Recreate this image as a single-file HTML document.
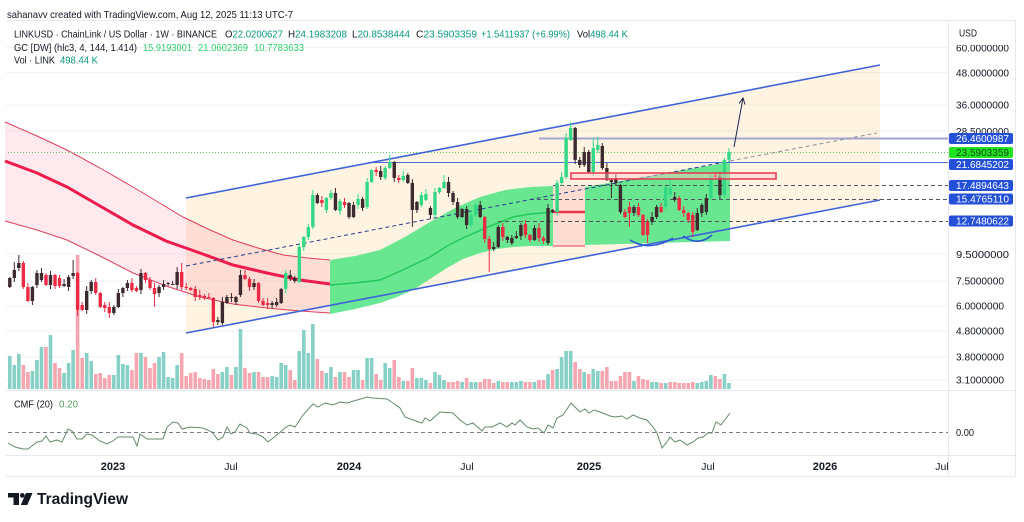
<!DOCTYPE html>
<html><head><meta charset="utf-8">
<style>
html,body{margin:0;padding:0;background:#fff;width:1024px;height:522px;overflow:hidden}
svg{display:block}
text{font-family:"Liberation Sans",Arial,sans-serif}
</style></head>
<body>
<svg id="s" width="1024" height="522" viewBox="0 0 1024 522" xmlns="http://www.w3.org/2000/svg">
<defs><clipPath id="axclip"><rect x="949" y="45" width="70" height="430"/></clipPath></defs>
<rect width="1024" height="522" fill="#fff"/>
<!-- grid -->
<g stroke="#f0f2f5" stroke-width="1">
<line x1="6" x2="948" y1="47.5" y2="47.5"/><line x1="6" x2="948" y1="72.5" y2="72.5"/>
<line x1="6" x2="948" y1="105" y2="105"/><line x1="6" x2="948" y1="131" y2="131"/>
<line x1="6" x2="948" y1="254" y2="254"/><line x1="6" x2="948" y1="281" y2="281"/>
<line x1="6" x2="948" y1="306" y2="306"/><line x1="6" x2="948" y1="331" y2="331"/>
<line x1="6" x2="948" y1="357" y2="357"/><line x1="6" x2="948" y1="380" y2="380"/>
</g>
<!-- frame -->
<g stroke="#e6e8ee" stroke-width="1">
<line x1="6" x2="1015" y1="20.5" y2="20.5"/>
<line x1="6" x2="1015" y1="390.5" y2="390.5"/>
<line x1="6" x2="1015" y1="455.5" y2="455.5"/>
<line x1="6" x2="1015" y1="476.5" y2="476.5"/>
<line x1="948.5" x2="948.5" y1="20" y2="476"/>
<line x1="1015.5" x2="1015.5" y1="20" y2="476"/>
</g>
<!-- channel fill -->
<polygon points="186,198 880,65 880,200 186,333" fill="#ffb74d" fill-opacity="0.17"/>
<!-- pink GC band -->
<polygon points="5,122 37,136 67,150 100,168 133,187 158,202 183,217 208,229 233,240 258,248 283,255 308,258 330,260 330,313 300,311 267,308 233,304 200,297 166,286 133,273 100,256 67,240 37,230 5,221" fill="#f7386b" fill-opacity="0.11"/>
<!-- green GC band -->
<polygon points="330,260 355,256 380,250 405,237 430,222 455,208 480,197 505,190 530,187 553,186 553,246 530,246 513,247 497,249 480,253 463,259 447,268 430,279 413,290 397,297 380,303 355,309 330,314" fill="#2fe070" fill-opacity="0.72"/>
<rect x="553" y="186" width="32" height="60" fill="#f7386b" fill-opacity="0.12"/>
<polygon points="585,187 730,162 730,241 585,245" fill="#2fe070" fill-opacity="0.72"/>
<!-- GC lines -->
<polyline points="5,122 37,136 67,150 100,168 133,187 158,202 183,217 208,229 233,240 258,248 283,255 308,258 330,260" fill="none" stroke="#e0405c" stroke-width="1"/>
<polyline points="5,221 37,230 67,240 100,256 133,273 166,286 200,297 233,304 267,308 300,311 330,313" fill="none" stroke="#e0405c" stroke-width="1"/>
<polyline points="5,161 37,173 67,187 100,206 133,225 166,241 200,253 233,265 267,273 300,280 330,284" fill="none" stroke="#ee1c4c" stroke-width="3"/>
<polyline points="330,285 355,283 380,280 405,269 430,257 447,246 463,238 488,227 513,217 530,214 553,212" fill="none" stroke="#22c95a" stroke-width="1.5"/>
<line x1="553" x2="585" y1="212" y2="212" stroke="#e8344a" stroke-width="2.5"/>
<line x1="553" x2="585" y1="246" y2="246" stroke="#e0405c" stroke-width="1"/>
<!-- horizontal levels -->
<line x1="539" x2="948" y1="138.5" y2="138.5" stroke="#a3a6d2" stroke-width="2"/>
<line x1="8" x2="948" y1="152.5" y2="152.5" stroke="#5cc95c" stroke-width="1" stroke-dasharray="1,2"/>
<line x1="372" x2="948" y1="162.5" y2="162.5" stroke="#4a6fd8" stroke-width="1"/>
<g stroke="#50555f" stroke-width="1" stroke-dasharray="4,3">
<line x1="553" x2="948" y1="185.5" y2="185.5"/>
<line x1="530" x2="948" y1="199.5" y2="199.5"/>
<line x1="498" x2="948" y1="221.5" y2="221.5"/>
</g>
<!-- volume & candles -->
<g id="vol"></g>
<!-- CMF -->
<line x1="8" x2="948" y1="432.5" y2="432.5" stroke="#777c86" stroke-width="1" stroke-dasharray="4,3"/>
<polyline fill="none" stroke="#65896a" stroke-width="1" points="8,443 15,447 23,449 28,449 37,442 42,441 46,436 50,442 57,440 62,442 68,429 72,431 77,439 82,439 87,434 92,435 100,441 107,444 113,441 118,437 128,437 133,437 137,446 140,434 147,439 153,439 163,439 167,427 173,422 178,423 182,429 190,427 203,428 212,432 218,440 223,437 227,427 231,434 235,432 240,424 247,428 250,433 257,434 263,437 268,442 273,438 278,434 285,428 290,425 295,427 303,415 313,404 318,407 325,403 333,405 340,402 347,403 357,400 367,397 372,398 387,399 393,403 400,408 405,417 413,420 422,423 425,418 430,421 440,412 453,413 460,420 467,425 473,423 482,431 485,427 492,427 500,423 507,427 512,423 515,425 520,420 527,427 533,429 538,428 544,433 548,425 553,428 557,418 563,415 571,403 580,412 585,409 589,413 594,410 600,412 610,416 615,417 622,416 627,419 633,415 640,418 647,420 653,427 657,433 662,448 667,442 670,437 675,442 680,440 687,445 693,442 698,438 703,437 708,433 712,433 716,422 721,425 730,413"/>
<!-- channel lines -->
<line x1="186" y1="198" x2="880" y2="65" stroke="#3f63d8" stroke-width="1.6"/>
<line x1="186" y1="333" x2="880" y2="200" stroke="#3f63d8" stroke-width="1.6"/>
<line x1="186" y1="266" x2="730" y2="161" stroke="#2b3f8f" stroke-width="1" stroke-dasharray="4,3"/>
<line x1="730" y1="161" x2="877" y2="133" stroke="#8c8f99" stroke-width="1" stroke-dasharray="4,3"/>
<g id="cdl"></g>
<!-- zone -->
<rect x="571" y="173" width="205" height="6" fill="#ffc8cc" fill-opacity="0.45" stroke="#e8344a" stroke-width="1.5"/>
<!-- arrow -->
<g stroke="#1c2550" stroke-width="1" fill="none">
<line x1="734" y1="147" x2="743" y2="98"/>
<polyline points="739,103.5 743,98 745,104.5"/>
</g>
<!-- arcs -->
<path d="M630 240 Q650 252 673 238" fill="none" stroke="#2c55d4" stroke-width="1.6"/>
<path d="M683 236 Q698 247 712 235" fill="none" stroke="#2c55d4" stroke-width="1.6"/>

<!-- header -->
<text x="7" y="18" font-size="10.5" fill="#131722" textLength="286" lengthAdjust="spacingAndGlyphs">sahanavv created with TradingView.com, Aug 12, 2025 11:13 UTC-7</text>
<g font-size="10.5" fill="#131722">
<text x="14" y="37.5" textLength="203" lengthAdjust="spacingAndGlyphs">LINKUSD · ChainLink / US Dollar · 1W · BINANCE</text>
<text x="225" y="37.5" textLength="58" lengthAdjust="spacingAndGlyphs">O<tspan fill="#089981">22.0200627</tspan></text>
<text x="288" y="37.5" textLength="59" lengthAdjust="spacingAndGlyphs">H<tspan fill="#089981">24.1983208</tspan></text>
<text x="352" y="37.5" textLength="58" lengthAdjust="spacingAndGlyphs">L<tspan fill="#089981">20.8538444</tspan></text>
<text x="416" y="37.5" textLength="61" lengthAdjust="spacingAndGlyphs">C<tspan fill="#089981">23.5903359</tspan></text>
<text x="481" y="37.5" textLength="89" lengthAdjust="spacingAndGlyphs" fill="#089981">+1.5411937 (+6.99%)</text>
<text x="577" y="37.5" textLength="51" lengthAdjust="spacingAndGlyphs">Vol<tspan fill="#089981">498.44 K</tspan></text>
<text x="14" y="51" textLength="123" lengthAdjust="spacingAndGlyphs">GC [DW] (hlc3, 4, 144, 1.414)</text>
<text x="143" y="51" textLength="49" lengthAdjust="spacingAndGlyphs" fill="#2fd16b">15.9193001</text>
<text x="198" y="51" textLength="50" lengthAdjust="spacingAndGlyphs" fill="#2fd16b">21.0602369</text>
<text x="254" y="51" textLength="50" lengthAdjust="spacingAndGlyphs" fill="#2fd16b">10.7783633</text>
<text x="14" y="63.5" textLength="41" lengthAdjust="spacingAndGlyphs">Vol · LINK</text>
<text x="60" y="63.5" textLength="38" lengthAdjust="spacingAndGlyphs" fill="#089981">498.44 K</text>
<text x="14" y="407.5" textLength="39" lengthAdjust="spacingAndGlyphs">CMF (20)</text>
<text x="59" y="407.5" textLength="19" lengthAdjust="spacingAndGlyphs" fill="#4f9a58">0.20</text>
</g>
<!-- price axis -->
<g font-size="10" fill="#131722">
<text x="959" y="36.5" textLength="18" lengthAdjust="spacingAndGlyphs">USD</text>
<text x="956" y="51.3" textLength="53" lengthAdjust="spacingAndGlyphs" clip-path="url(#axclip)">60.0000000</text>
<text x="956" y="76.3" textLength="53" lengthAdjust="spacingAndGlyphs">48.0000000</text>
<text x="956" y="108.6" textLength="53" lengthAdjust="spacingAndGlyphs">36.0000000</text>
<text x="956" y="134.8" textLength="53" lengthAdjust="spacingAndGlyphs">28.5000000</text>
<text x="956" y="257.8" textLength="53" lengthAdjust="spacingAndGlyphs">9.5000000</text>
<text x="956" y="284.4" textLength="48" lengthAdjust="spacingAndGlyphs">7.5000000</text>
<text x="956" y="309.4" textLength="48" lengthAdjust="spacingAndGlyphs">6.0000000</text>
<text x="956" y="334.5" textLength="48" lengthAdjust="spacingAndGlyphs">4.8000000</text>
<text x="956" y="360.7" textLength="48" lengthAdjust="spacingAndGlyphs">3.8000000</text>
<text x="956" y="383.5" textLength="48" lengthAdjust="spacingAndGlyphs">3.1000000</text>
<text x="956" y="435.8" textLength="18" lengthAdjust="spacingAndGlyphs">0.00</text>
</g>
<g font-size="10">
<rect x="949" y="133" width="64" height="11" rx="2" fill="#2450d8"/>
<text x="956" y="142" fill="#fff" textLength="53" lengthAdjust="spacingAndGlyphs">26.4600987</text>
<rect x="949" y="147" width="64" height="11" rx="2" fill="#22e322"/>
<text x="956" y="156" fill="#0f4a12" textLength="53" lengthAdjust="spacingAndGlyphs">23.5903359</text>
<rect x="949" y="159" width="64" height="11" rx="2" fill="#2450d8"/>
<text x="956" y="168" fill="#fff" textLength="53" lengthAdjust="spacingAndGlyphs">21.6845202</text>
<rect x="949" y="180" width="64" height="11" rx="2" fill="#2450d8"/>
<text x="956" y="189" fill="#fff" textLength="53" lengthAdjust="spacingAndGlyphs">17.4894643</text>
<rect x="949" y="193.5" width="64" height="11" rx="2" fill="#2450d8"/>
<text x="956" y="202.5" fill="#fff" textLength="53" lengthAdjust="spacingAndGlyphs">15.4765110</text>
<rect x="949" y="215.5" width="64" height="11" rx="2" fill="#2450d8"/>
<text x="956" y="224.5" fill="#fff" textLength="53" lengthAdjust="spacingAndGlyphs">12.7480622</text>
</g>
<!-- time axis -->
<g fill="#131722" text-anchor="middle">
<text x="113" y="470" font-size="11" font-weight="bold">2023</text>
<text x="231" y="470" font-size="10.5">Jul</text>
<text x="349" y="470" font-size="11" font-weight="bold">2024</text>
<text x="467" y="470" font-size="10.5">Jul</text>
<text x="589" y="470" font-size="11" font-weight="bold">2025</text>
<text x="708" y="470" font-size="10.5">Jul</text>
<text x="825" y="470" font-size="11" font-weight="bold">2026</text>
<text x="942" y="470" font-size="10.5">Jul</text>
</g>
<!-- logo -->
<g fill="#131722">
<path d="M8 493h11v12h-5.5v-7.5H8z"/>
<circle cx="22.3" cy="495.4" r="2.4"/>
<path d="M26 493h6.5l-5.2 12h-6.5z"/>
<text x="37" y="504" font-size="16" font-weight="bold" textLength="91" lengthAdjust="spacingAndGlyphs">TradingView</text>
</g>
</svg>
<script>
const D=`287,278,d
278,270,d,262
268,263,d,255
263,287,r
287,301,r
301,287,d
285,273,d
280,273,d
275,285,r
285,275,d
275,286,r
278,286,r
286,284,d
287,277,d
276,273,d,260
273,310,r,,316
305,310,r
310,291,d
291,282,d
282,293,r
293,307,r
305,308,r
307,313,r,,318
313,307,d
307,293,d
293,288,d
288,283,d
283,290,r
288,291,r
290,273,d
273,280,r
280,288,r
288,294,r,,307
293,287,d
287,284,d
284,283,d
284,284,d
285,272,d
272,287,r,263
287,288,r
288,290,r
289,297,r
295,297,r
296,298,r
297,298,r
298,322,r,,327
320,322,d
323,302,d
303,297,d
297,298,d
302,297,d
295,275,d,270
275,279,r
279,287,r
287,283,d
283,301,r
301,305,r
303,305,r
305,303,d
305,302,d
303,289,d
289,273,g
275,278,d
278,281,d
282,247,g
247,237,g
237,227,g
227,195,g
195,203,d
200,203,r
210,198,g
198,193,g
193,210,d
211,201,g
202,205,r
203,217,d
217,205,d
205,199,g
199,208,d
207,182,g
182,170,g
170,172,r
171,177,d
178,168,g
168,162,g,155
162,178,d
178,180,r
180,176,g
175,183,d
183,210,d,,227
210,202,d
205,195,g
200,194,g
208,215,d
215,192,g
192,188,g
188,182,g,175
182,193,d
193,202,d
202,217,d
217,209,d
209,225,d
225,215,g
215,205,g
205,217,d
217,239,r
239,249,r,,272
247,249,d
247,227,d
227,237,r
237,240,d
243,238,d
238,236,d
236,225,d
224,235,r
235,240,r
240,228,d
228,238,r
238,241,r
243,208,d
210,212,d
212,183,g
183,177,g
177,138,g,133
140,128,g,122
128,160,d
160,165,d
165,152,d
152,172,d
172,148,g,138
150,145,g,137
146,168,d
168,180,d
180,182,d,,198
178,183,d
185,212,d
212,217,r
207,213,r,,227
213,207,d
207,215,r
215,235,r
222,235,r,,243
222,217,d
217,207,d
207,212,r
207,187,g
188,195,g,180
197,200,d
198,210,r
210,213,r
213,220,r
215,232,r,,237
230,213,d
213,205,d
212,198,d
198,175,g
175,177,r
177,195,d
195,160,g
160,152,g`;
const V=[33,24,35,24,17,18,29,42,42,54,26,21,16,26,39,134,31,36,28,15,16,11,14,14,34,25,24,19,36,36,32,21,26,32,37,12,11,24,36,13,16,17,11,10,9,20,15,17,22,14,22,60,21,16,17,17,12,12,13,12,26,24,19,9,38,59,36,65,30,18,16,22,12,17,17,12,19,19,9,31,31,15,9,26,21,29,12,8,8,21,11,11,9,6,17,14,9,7,7,8,7,11,7,7,7,10,10,6,8,7,7,7,7,8,7,7,7,9,9,15,19,20,32,38,38,27,20,17,15,20,18,18,22,8,8,13,17,17,8,13,10,9,7,7,6,6,7,7,6,6,6,7,6,7,8,14,13,10,15,6];
const col={g:"#33d884",r:"#ec2a43",d:"#3c2a2e"};
const NS="http://www.w3.org/2000/svg";
const gv=document.getElementById("vol"),gc=document.getElementById("cdl");
function mk(tag,at,par){const e=document.createElementNS(NS,tag);for(const k in at)e.setAttribute(k,at[k]);par.appendChild(e);}
D.trim().split("\n").forEach((row,i)=>{
 const p=row.trim().split(",");const o=+p[0],c=+p[1],k=p[2];
 const x=9.8+i*4.523;
 const top=Math.min(o,c),bot=Math.max(o,c);
 const h=(p[3]&&p[3]!=="")?+p[3]:top-(1+(i*7)%5);
 const l=(p[4]&&p[4]!=="")?+p[4]:bot+(1+(i*11)%4);
 const v=V[i]||8;
 mk("rect",{x:(x-1.8).toFixed(2),y:389-v,width:3.6,height:v,fill:(c<=o)?"#86d0c5":"#f5a6b0"},gv);
 mk("line",{x1:x.toFixed(2),x2:x.toFixed(2),y1:h,y2:l,stroke:col[k],"stroke-width":1},gc);
 mk("rect",{x:(x-1.7).toFixed(2),y:top,width:3.4,height:Math.max(bot-top,1),fill:col[k]},gc);
});
</script>
</body></html>
